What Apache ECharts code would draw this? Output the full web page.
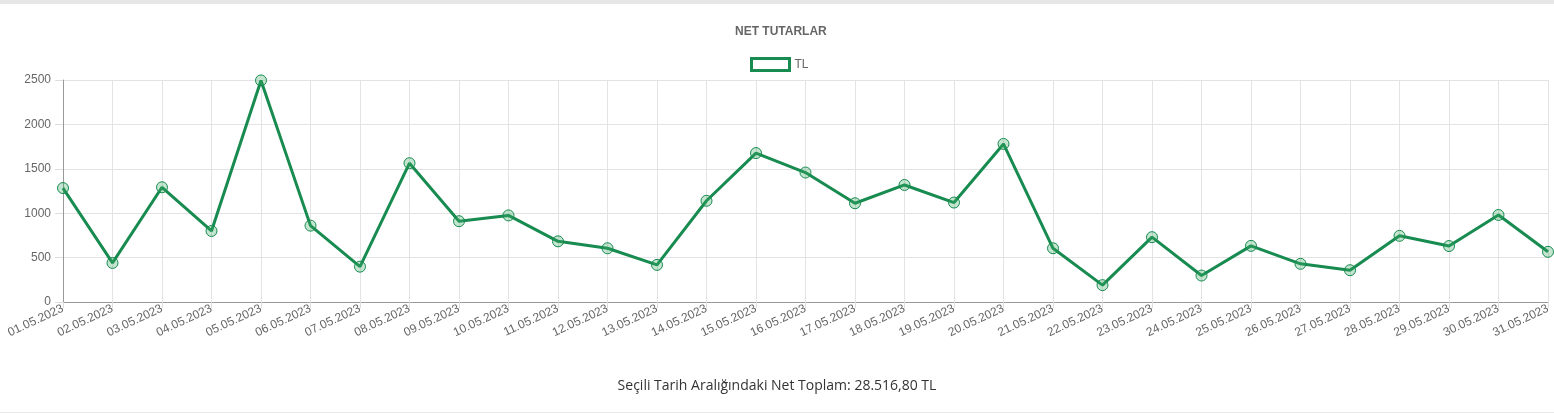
<!DOCTYPE html>
<html>
<head>
<meta charset="utf-8">
<script src="https://cdn.jsdelivr.net/npm/echarts@6/dist/echarts.min.js"></script>
<style>
html,body{margin:0;padding:0;background:#fff;}
#chart{width:1554px;height:416px;}
</style>
</head>
<body>
<div id="chart"></div>
<script>
const categories = ['01.05.2023','02.05.2023','03.05.2023','04.05.2023','05.05.2023','06.05.2023','07.05.2023','08.05.2023','09.05.2023','10.05.2023','11.05.2023','12.05.2023','13.05.2023','14.05.2023','15.05.2023','16.05.2023','17.05.2023','18.05.2023','19.05.2023','20.05.2023','21.05.2023','22.05.2023','23.05.2023','24.05.2023','25.05.2023','26.05.2023','27.05.2023','28.05.2023','29.05.2023','30.05.2023','31.05.2023'];
const tlValues = [1283,440,1292,800,2495,860,398,1563,910,975,683,605,418,1140,1677,1458,1112,1318,1120,1780,605,190,730,298,632,430,358,745,630,980,565];
const seriesName = 'TL';
const chartTitle = 'NET TUTARLAR';
const footerText = 'Seçili Tarih Aralığındaki Net Toplam: 28.516,80 TL';

const green = '#178b50';
const chart = echarts.init(document.getElementById('chart'));
chart.setOption({
  animation: false,
  backgroundColor: '#fff',
  title: [{
    text: chartTitle,
    left: 730,
    top: 21,
    textStyle: {fontFamily: 'Liberation Sans, Arial', fontSize: 12, fontWeight: 'bold', color: '#666'}
  }, {
    text: footerText,
    left: 'center',
    top: 374,
    textStyle: {fontFamily: 'Open Sans', fontSize: 14, fontWeight: 'normal', color: '#333'}
  }],
  legend: {
    top: 52,
    left: 745,
    icon: 'rect',
    itemWidth: 38,
    itemHeight: 12,
    itemGap: 6,
    data: [{name: seriesName, itemStyle: {color: '#fff', borderColor: green, borderWidth: 3}}],
    textStyle: {fontFamily: 'Liberation Sans, Arial', fontSize: 12, color: '#666'}
  },
  graphic: [
    {type: 'rect', shape: {x: 0, y: 0, width: 1554, height: 4}, style: {fill: '#e6e6e6'}},
    {type: 'rect', shape: {x: 0, y: 412, width: 1554, height: 1}, style: {fill: '#e8e8e8'}}
  ],
  grid: {left: 63, right: 6, top: 80, bottom: 114, containLabel: false},
  xAxis: {
    type: 'category',
    data: categories,
    boundaryGap: false,
    axisLine: {lineStyle: {color: '#999', width: 1}},
    axisTick: {show: true, length: 6, lineStyle: {color: '#ddd'}},
    splitLine: {show: true, lineStyle: {color: '#e3e3e3'}},
    axisLabel: {rotate: 25, interval: 0, margin: 6, fontFamily: 'Liberation Sans, Arial', fontSize: 12, color: '#666'}
  },
  yAxis: {
    type: 'value',
    min: 0,
    max: 2500,
    interval: 500,
    axisLine: {show: true, lineStyle: {color: '#999', width: 1}},
    axisTick: {show: true, length: 8, lineStyle: {color: '#ddd'}},
    splitLine: {show: true, lineStyle: {color: '#e3e3e3'}},
    axisLabel: {margin: 12, fontFamily: 'Liberation Sans, Arial', fontSize: 12, color: '#666', formatter: function (v) { return String(v); }}
  },
  series: [{
    name: seriesName,
    type: 'line',
    data: tlValues,
    symbol: 'circle',
    symbolSize: 11,
    lineStyle: {color: green, width: 3},
    itemStyle: {color: 'rgba(60,170,100,0.3)', borderColor: green, borderWidth: 1},
    z: 3
  }]
});
</script>
</body>
</html>
